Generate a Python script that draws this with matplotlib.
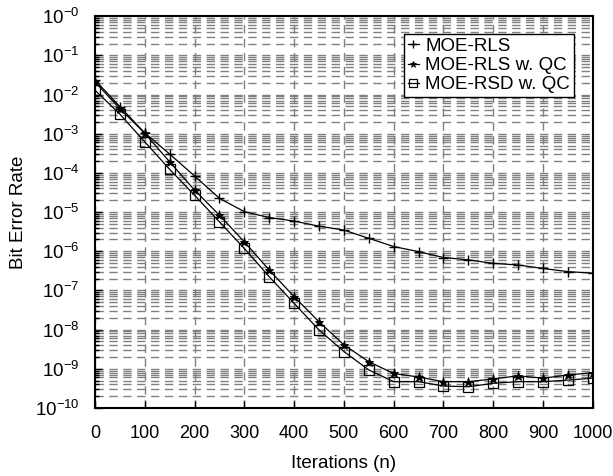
import numpy as np
import matplotlib
matplotlib.use("Agg")
import matplotlib.pyplot as plt
from matplotlib.ticker import FixedLocator, FuncFormatter, LogLocator, NullFormatter

plt.rcParams['font.family'] = ['Liberation Sans', 'DejaVu Sans']
plt.rcParams['mathtext.fontset'] = 'custom'
plt.rcParams['mathtext.rm'] = 'Liberation Sans'
plt.rcParams['mathtext.it'] = 'Liberation Sans'

iterations = np.arange(0, 1001, 50)

log_moe_rls = [-1.63, -2.31, -2.98, -3.52, -4.08, -4.65, -4.99, -5.14, -5.23, -5.36,
               -5.46, -5.67, -5.88, -6.01, -6.16, -6.22, -6.31, -6.35, -6.44, -6.52, -6.56]
log_moe_rls_qc = [-1.68, -2.36, -2.99, -3.72, -4.44, -5.08, -5.76, -6.48, -7.16, -7.80,
                  -8.39, -8.82, -9.12, -9.21, -9.33, -9.33, -9.26, -9.18, -9.24, -9.16, -9.10]
log_moe_rsd_qc = [-1.89, -2.50, -3.21, -3.91, -4.57, -5.25, -5.93, -6.65, -7.33, -8.01,
                  -8.56, -9.03, -9.33, -9.33, -9.44, -9.46, -9.37, -9.33, -9.33, -9.29, -9.24]

moe_rls = 10.0 ** np.array(log_moe_rls)
moe_rls_qc = 10.0 ** np.array(log_moe_rls_qc)
moe_rsd_qc = 10.0 ** np.array(log_moe_rsd_qc)

x_ticks = list(range(0, 1001, 100))
y_exps = list(range(-10, 1))

fig = plt.figure(figsize=(6.13, 4.76), dpi=100)
ax = fig.add_axes([0.155, 0.143, 0.812, 0.823])

ax.set_yscale('log')
ax.set_xlim(0, 1000)
ax.set_ylim(1e-10, 1e0)

ax.yaxis.set_major_locator(FixedLocator([10.0 ** e for e in y_exps]))
ax.yaxis.set_major_formatter(FuncFormatter(
    lambda v, p: r'$10^{-%d}$' % int(round(-np.log10(v)))))
ax.yaxis.set_minor_locator(LogLocator(base=10, subs=np.arange(2, 10), numticks=100))
ax.yaxis.set_minor_formatter(NullFormatter())
ax.xaxis.set_major_locator(FixedLocator(x_ticks))

ax.grid(True, which='major', axis='both', color='#808080', linestyle=(0, (6, 4)), linewidth=1.0)
ax.grid(True, which='minor', axis='y', color='#808080', linestyle=(0, (6, 4)), linewidth=1.0)

ax.tick_params(which='both', direction='in', width=1)
ax.tick_params(which='major', length=5)
ax.tick_params(which='minor', length=3)
ax.tick_params(axis='x', pad=12.5, labelsize=13)
ax.tick_params(axis='y', pad=11, labelsize=13.5)
for s in ax.spines.values():
    s.set_linewidth(1.5)

ax.plot(iterations, moe_rls, color='black', linewidth=0.9, marker='+',
        markersize=7, markeredgewidth=1.0, label='MOE-RLS')
ax.plot(iterations, moe_rls_qc, color='black', linewidth=0.9, marker='*',
        markersize=6.5, markeredgewidth=0.6, label='MOE-RLS w. QC')
ax.plot(iterations, moe_rsd_qc, color='black', linewidth=0.9, marker='s',
        markersize=7, markerfacecolor='none', markeredgewidth=0.9, label='MOE-RSD w. QC')

leg = ax.legend(loc='upper right', bbox_to_anchor=(0.962, 0.955), fontsize=13.5,
                handlelength=0.6, handletextpad=0.35, borderpad=0.2, labelspacing=0.12,
                markerscale=0.75, fancybox=False, framealpha=1, edgecolor='black',
                borderaxespad=0)
leg.get_frame().set_linewidth(1.0)

ax.set_xlabel('Iterations (n)', fontsize=13.5, labelpad=9)
ax.set_ylabel('Bit Error Rate', fontsize=13.5, labelpad=6)

fig.savefig('out.png', dpi=100)
